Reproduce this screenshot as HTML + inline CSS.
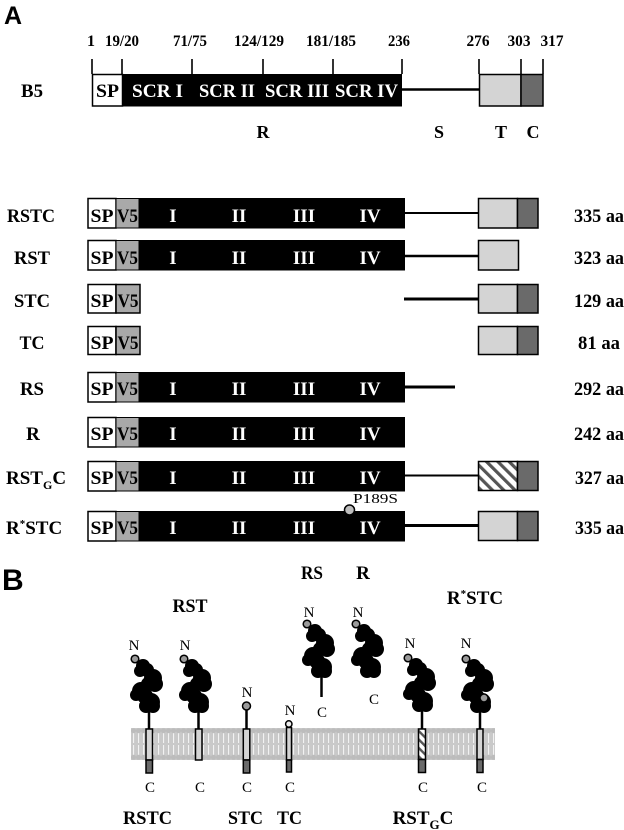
<!DOCTYPE html>
<html>
<head>
<meta charset="utf-8">
<style>
  html, body { margin: 0; padding: 0; background: #fff; }
  svg { display: block; }
  .b { font-family: "Liberation Serif", serif; font-weight: bold; }
  .r { font-family: "Liberation Serif", serif; font-weight: normal; }
  .s { font-family: "Liberation Sans", sans-serif; font-weight: bold; }
</style>
</head>
<body>
<svg width="624" height="830" viewBox="0 0 624 830" xmlns="http://www.w3.org/2000/svg">
  <defs>
    <pattern id="hatch" patternUnits="userSpaceOnUse" width="8" height="8" patternTransform="rotate(-45)">
      <rect x="0" y="0" width="8" height="8" fill="#fff"/>
      <rect x="0" y="0" width="3.2" height="8" fill="#555"/>
    </pattern>
    <pattern id="hatch2" patternUnits="userSpaceOnUse" width="6" height="6" patternTransform="rotate(-45)">
      <rect x="0" y="0" width="6" height="6" fill="#fff"/>
      <rect x="0" y="0" width="2.4" height="6" fill="#555"/>
    </pattern>
    <pattern id="tails" patternUnits="userSpaceOnUse" x="131" y="728" width="5" height="32">
      <rect x="0" y="0" width="5" height="32" fill="#c9c9c9"/>
      <rect x="2" y="5" width="1.1" height="10" fill="#f2f2f2"/>
      <rect x="2" y="17" width="1.1" height="10" fill="#f2f2f2"/>
      <circle cx="2.5" cy="2.7" r="2.5" fill="#bcbcbc"/>
      <circle cx="2.5" cy="29.3" r="2.5" fill="#bcbcbc"/>
    </pattern>
    <g id="blob" fill="#000">
      <circle cx="8" cy="7" r="7"/><circle cx="12" cy="11" r="7"/><circle cx="5" cy="12" r="6"/>
      <circle cx="18" cy="19" r="9"/><circle cx="20" cy="25" r="8"/><circle cx="13" cy="25" r="7"/>
      <circle cx="6" cy="32" r="9"/><circle cx="10" cy="37" r="8"/><circle cx="1" cy="36" r="6"/>
      <circle cx="16" cy="43" r="9"/><circle cx="18" cy="47" r="7"/><circle cx="11" cy="47" r="7"/>
    </g>
  </defs>

  <!-- ================= PANEL A ================= -->
  <text class="s" x="4" y="24" font-size="25">A</text>

  <!-- numbers -->
  <g class="b" font-size="16" text-anchor="middle">
    <text x="91" y="46">1</text>
    <text x="122" y="46" textLength="34" lengthAdjust="spacingAndGlyphs">19/20</text>
    <text x="190" y="46" textLength="34" lengthAdjust="spacingAndGlyphs">71/75</text>
    <text x="259" y="46" textLength="50" lengthAdjust="spacingAndGlyphs">124/129</text>
    <text x="331" y="46" textLength="50" lengthAdjust="spacingAndGlyphs">181/185</text>
    <text x="399" y="46" textLength="22" lengthAdjust="spacingAndGlyphs">236</text>
    <text x="478" y="46" textLength="23" lengthAdjust="spacingAndGlyphs">276</text>
    <text x="519" y="46" textLength="23" lengthAdjust="spacingAndGlyphs">303</text>
    <text x="552" y="46" textLength="23" lengthAdjust="spacingAndGlyphs">317</text>
  </g>
  <!-- ticks -->
  <g stroke="#000" stroke-width="1.6">
    <line x1="92" y1="59" x2="92" y2="74"/>
    <line x1="122" y1="59" x2="122" y2="74"/>
    <line x1="192" y1="59" x2="192" y2="74"/>
    <line x1="263" y1="59" x2="263" y2="74"/>
    <line x1="333" y1="59" x2="333" y2="74"/>
    <line x1="402" y1="59" x2="402" y2="74"/>
    <line x1="479" y1="59" x2="479" y2="74"/>
    <line x1="521" y1="59" x2="521" y2="74"/>
    <line x1="543" y1="59" x2="543" y2="74"/>
  </g>
  <!-- B5 bar -->
  <text class="b" x="32" y="97" font-size="19" text-anchor="middle" textLength="22" lengthAdjust="spacingAndGlyphs">B5</text>
  <rect x="92.5" y="74.5" width="30" height="31.5" fill="#fff" stroke="#000" stroke-width="1.5"/>
  <rect x="122" y="74" width="280" height="32.5" fill="#000"/>
  <line x1="402" y1="89.5" x2="479" y2="89.5" stroke="#000" stroke-width="2.6"/>
  <rect x="479.5" y="74.5" width="41.5" height="31.5" fill="#d4d4d4" stroke="#000" stroke-width="1.5"/>
  <rect x="521" y="74.5" width="22" height="31.5" fill="#6a6a6a" stroke="#000" stroke-width="1.5"/>
  <text class="b" x="107.5" y="97" font-size="19" text-anchor="middle" textLength="23" lengthAdjust="spacingAndGlyphs">SP</text>
  <g class="b" font-size="19" fill="#fff">
    <text x="132" y="97" textLength="51" lengthAdjust="spacingAndGlyphs">SCR I</text>
    <text x="199" y="97" textLength="56" lengthAdjust="spacingAndGlyphs">SCR II</text>
    <text x="265" y="97" textLength="64" lengthAdjust="spacingAndGlyphs">SCR III</text>
    <text x="335" y="97" textLength="63" lengthAdjust="spacingAndGlyphs">SCR IV</text>
  </g>
  <g class="b" font-size="18" text-anchor="middle">
    <text x="263" y="138">R</text>
    <text x="439" y="138">S</text>
    <text x="501" y="138">T</text>
    <text x="533" y="138">C</text>
  </g>

  <!-- RSTC: top 198 -->
  <g>
    <text class="b" x="31" y="222" font-size="19" text-anchor="middle" textLength="48" lengthAdjust="spacingAndGlyphs">RSTC</text>
    <rect x="88" y="198.5" width="28" height="29.5" fill="#fff" stroke="#000" stroke-width="1.5"/>
    <rect x="116" y="198.5" width="23" height="29.5" fill="#a9a9a9" stroke="#000" stroke-width="1"/>
    <rect x="138.5" y="198" width="266.5" height="30.5" fill="#000"/>
    <line x1="405" y1="213" x2="478" y2="213" stroke="#000" stroke-width="2"/>
    <rect x="478.5" y="198.5" width="39" height="29.5" fill="#d4d4d4" stroke="#000" stroke-width="1.5"/>
    <rect x="517.5" y="198.5" width="20.5" height="29.5" fill="#6a6a6a" stroke="#000" stroke-width="1.5"/>
    <text class="b" x="102" y="222" font-size="19" text-anchor="middle" textLength="23" lengthAdjust="spacingAndGlyphs">SP</text>
    <text class="b" x="127.5" y="222" font-size="19" text-anchor="middle" textLength="21" lengthAdjust="spacingAndGlyphs">V5</text>
    <g class="b" font-size="19" fill="#fff" text-anchor="middle">
      <text x="173" y="222">I</text><text x="239" y="222">II</text><text x="304" y="222">III</text><text x="370" y="222">IV</text>
    </g>
    <text class="b" x="574" y="222" font-size="19" textLength="50" lengthAdjust="spacingAndGlyphs">335 aa</text>
  </g>

  <!-- RST: top 240 -->
  <g>
    <text class="b" x="32" y="264" font-size="19" text-anchor="middle" textLength="36" lengthAdjust="spacingAndGlyphs">RST</text>
    <rect x="88" y="240.5" width="28" height="29.5" fill="#fff" stroke="#000" stroke-width="1.5"/>
    <rect x="116" y="240.5" width="23" height="29.5" fill="#a9a9a9" stroke="#000" stroke-width="1"/>
    <rect x="138.5" y="240" width="266.5" height="30.5" fill="#000"/>
    <line x1="405" y1="256" x2="478" y2="256" stroke="#000" stroke-width="2.6"/>
    <rect x="478.5" y="240.5" width="40" height="29.5" fill="#d4d4d4" stroke="#000" stroke-width="1.5"/>
    <text class="b" x="102" y="264" font-size="19" text-anchor="middle" textLength="23" lengthAdjust="spacingAndGlyphs">SP</text>
    <text class="b" x="127.5" y="264" font-size="19" text-anchor="middle" textLength="21" lengthAdjust="spacingAndGlyphs">V5</text>
    <g class="b" font-size="19" fill="#fff" text-anchor="middle">
      <text x="173" y="264">I</text><text x="239" y="264">II</text><text x="304" y="264">III</text><text x="370" y="264">IV</text>
    </g>
    <text class="b" x="574" y="264" font-size="19" textLength="50" lengthAdjust="spacingAndGlyphs">323 aa</text>
  </g>

  <!-- STC: top 284 -->
  <g>
    <text class="b" x="32" y="307" font-size="19" text-anchor="middle" textLength="36" lengthAdjust="spacingAndGlyphs">STC</text>
    <rect x="88" y="284.5" width="28" height="28.5" fill="#fff" stroke="#000" stroke-width="1.5"/>
    <rect x="116" y="284.5" width="24" height="28.5" fill="#a9a9a9" stroke="#000" stroke-width="1.5"/>
    <line x1="404" y1="299" x2="478" y2="299" stroke="#000" stroke-width="3"/>
    <rect x="478.5" y="284.5" width="39" height="28.5" fill="#d4d4d4" stroke="#000" stroke-width="1.5"/>
    <rect x="517.5" y="284.5" width="20.5" height="28.5" fill="#6a6a6a" stroke="#000" stroke-width="1.5"/>
    <text class="b" x="102" y="307" font-size="19" text-anchor="middle" textLength="23" lengthAdjust="spacingAndGlyphs">SP</text>
    <text class="b" x="128" y="307" font-size="19" text-anchor="middle" textLength="21" lengthAdjust="spacingAndGlyphs">V5</text>
    <text class="b" x="574" y="307" font-size="19" textLength="50" lengthAdjust="spacingAndGlyphs">129 aa</text>
  </g>

  <!-- TC: top 326 -->
  <g>
    <text class="b" x="32" y="349" font-size="19" text-anchor="middle" textLength="25" lengthAdjust="spacingAndGlyphs">TC</text>
    <rect x="88" y="326.5" width="28" height="28" fill="#fff" stroke="#000" stroke-width="1.5"/>
    <rect x="116" y="326.5" width="24" height="28" fill="#a9a9a9" stroke="#000" stroke-width="1.5"/>
    <rect x="478.5" y="326.5" width="39" height="28" fill="#d4d4d4" stroke="#000" stroke-width="1.5"/>
    <rect x="517.5" y="326.5" width="20.5" height="28" fill="#6a6a6a" stroke="#000" stroke-width="1.5"/>
    <text class="b" x="102" y="349" font-size="19" text-anchor="middle" textLength="23" lengthAdjust="spacingAndGlyphs">SP</text>
    <text class="b" x="128" y="349" font-size="19" text-anchor="middle" textLength="21" lengthAdjust="spacingAndGlyphs">V5</text>
    <text class="b" x="578" y="349" font-size="19" textLength="42" lengthAdjust="spacingAndGlyphs">81 aa</text>
  </g>

  <!-- RS: top 372 -->
  <g>
    <text class="b" x="32" y="395" font-size="19" text-anchor="middle" textLength="24" lengthAdjust="spacingAndGlyphs">RS</text>
    <rect x="88" y="372.5" width="28" height="29.5" fill="#fff" stroke="#000" stroke-width="1.5"/>
    <rect x="116" y="372.5" width="23" height="29.5" fill="#a9a9a9" stroke="#000" stroke-width="1"/>
    <rect x="138.5" y="372" width="266.5" height="30.5" fill="#000"/>
    <line x1="405" y1="387" x2="455" y2="387" stroke="#000" stroke-width="3"/>
    <text class="b" x="102" y="395" font-size="19" text-anchor="middle" textLength="23" lengthAdjust="spacingAndGlyphs">SP</text>
    <text class="b" x="127.5" y="395" font-size="19" text-anchor="middle" textLength="21" lengthAdjust="spacingAndGlyphs">V5</text>
    <g class="b" font-size="19" fill="#fff" text-anchor="middle">
      <text x="173" y="395">I</text><text x="239" y="395">II</text><text x="304" y="395">III</text><text x="370" y="395">IV</text>
    </g>
    <text class="b" x="574" y="395" font-size="19" textLength="50" lengthAdjust="spacingAndGlyphs">292 aa</text>
  </g>

  <!-- R: top 417 -->
  <g>
    <text class="b" x="33" y="440" font-size="19" text-anchor="middle">R</text>
    <rect x="88" y="417.5" width="28" height="29.5" fill="#fff" stroke="#000" stroke-width="1.5"/>
    <rect x="116" y="417.5" width="23" height="29.5" fill="#a9a9a9" stroke="#000" stroke-width="1"/>
    <rect x="138.5" y="417" width="266.5" height="30.5" fill="#000"/>
    <text class="b" x="102" y="440" font-size="19" text-anchor="middle" textLength="23" lengthAdjust="spacingAndGlyphs">SP</text>
    <text class="b" x="127.5" y="440" font-size="19" text-anchor="middle" textLength="21" lengthAdjust="spacingAndGlyphs">V5</text>
    <g class="b" font-size="19" fill="#fff" text-anchor="middle">
      <text x="173" y="440">I</text><text x="239" y="440">II</text><text x="304" y="440">III</text><text x="370" y="440">IV</text>
    </g>
    <text class="b" x="574" y="440" font-size="19" textLength="50" lengthAdjust="spacingAndGlyphs">242 aa</text>
  </g>

  <!-- RSTGC: top 461 -->
  <g>
    <text class="b" x="6" y="484" font-size="19">RST<tspan font-size="12" dy="5">G</tspan><tspan dy="-5">C</tspan></text>
    <rect x="88" y="461.5" width="28" height="29.5" fill="#fff" stroke="#000" stroke-width="1.5"/>
    <rect x="116" y="461.5" width="23" height="29.5" fill="#a9a9a9" stroke="#000" stroke-width="1"/>
    <rect x="138.5" y="461" width="266.5" height="30.5" fill="#000"/>
    <line x1="405" y1="475.5" x2="478" y2="475.5" stroke="#000" stroke-width="2"/>
    <rect x="478.5" y="461.5" width="39" height="29" fill="url(#hatch)" stroke="#000" stroke-width="1.5"/>
    <rect x="517.5" y="461.5" width="20.5" height="29" fill="#6a6a6a" stroke="#000" stroke-width="1.5"/>
    <text class="b" x="102" y="484" font-size="19" text-anchor="middle" textLength="23" lengthAdjust="spacingAndGlyphs">SP</text>
    <text class="b" x="127.5" y="484" font-size="19" text-anchor="middle" textLength="21" lengthAdjust="spacingAndGlyphs">V5</text>
    <g class="b" font-size="19" fill="#fff" text-anchor="middle">
      <text x="173" y="484">I</text><text x="239" y="484">II</text><text x="304" y="484">III</text><text x="370" y="484">IV</text>
    </g>
    <text class="b" x="575" y="484" font-size="19" textLength="49" lengthAdjust="spacingAndGlyphs">327 aa</text>
  </g>

  <!-- R*STC: top 511 -->
  <g>
    <text class="b" x="6" y="534" font-size="19">R<tspan font-size="11" dy="-7">*</tspan><tspan dy="7">STC</tspan></text>
    <rect x="88" y="511.5" width="28" height="29.5" fill="#fff" stroke="#000" stroke-width="1.5"/>
    <rect x="116" y="511.5" width="23" height="29.5" fill="#a9a9a9" stroke="#000" stroke-width="1"/>
    <rect x="138.5" y="511" width="266.5" height="30.5" fill="#000"/>
    <line x1="405" y1="525.5" x2="478" y2="525.5" stroke="#000" stroke-width="3"/>
    <rect x="478.5" y="511.5" width="39" height="29" fill="#d4d4d4" stroke="#000" stroke-width="1.5"/>
    <rect x="517.5" y="511.5" width="20.5" height="29" fill="#6a6a6a" stroke="#000" stroke-width="1.5"/>
    <text class="b" x="102" y="534" font-size="19" text-anchor="middle" textLength="23" lengthAdjust="spacingAndGlyphs">SP</text>
    <text class="b" x="127.5" y="534" font-size="19" text-anchor="middle" textLength="21" lengthAdjust="spacingAndGlyphs">V5</text>
    <g class="b" font-size="19" fill="#fff" text-anchor="middle">
      <text x="173" y="534">I</text><text x="239" y="534">II</text><text x="304" y="534">III</text><text x="370" y="534">IV</text>
    </g>
    <circle cx="349.5" cy="510" r="5" fill="#bdbdbd" stroke="#000" stroke-width="1.5"/>
    <text class="r" x="353" y="503" font-size="14" textLength="45" lengthAdjust="spacingAndGlyphs">P189S</text>
    <text class="b" x="575" y="534" font-size="19" textLength="49" lengthAdjust="spacingAndGlyphs">335 aa</text>
  </g>

  <!-- ================= PANEL B ================= -->
  <text class="s" x="2" y="590" font-size="30">B</text>

  <g class="b" font-size="19" text-anchor="middle">
    <text x="190" y="612" textLength="35" lengthAdjust="spacingAndGlyphs">RST</text>
    <text x="312" y="579" textLength="22" lengthAdjust="spacingAndGlyphs">RS</text>
    <text x="363" y="579">R</text>
    <text x="475" y="604">R<tspan font-size="11" dy="-7">*</tspan><tspan dy="7">STC</tspan></text>
  </g>
  <g class="b" font-size="19" text-anchor="middle">
    <text x="147.5" y="824" textLength="49" lengthAdjust="spacingAndGlyphs">RSTC</text>
    <text x="245.5" y="824" textLength="35" lengthAdjust="spacingAndGlyphs">STC</text>
    <text x="289.5" y="824" textLength="25" lengthAdjust="spacingAndGlyphs">TC</text>
    <text x="423" y="824">RST<tspan font-size="13" dy="5">G</tspan><tspan dy="-5">C</tspan></text>
  </g>

  <!-- membrane -->
  <rect x="131" y="728" width="364" height="32" fill="url(#tails)"/>

  <!-- stems -->
  <g stroke="#000" stroke-width="2.5">
    <line x1="149" y1="708" x2="149" y2="729"/>
    <line x1="198.5" y1="708" x2="198.5" y2="729"/>
    <line x1="246.5" y1="709" x2="246.5" y2="729"/>
    <line x1="321.5" y1="672" x2="321.5" y2="697"/>
    <line x1="422" y1="707" x2="422" y2="729"/>
    <line x1="480" y1="708" x2="480" y2="729"/>
  </g>

  <!-- blobs -->
  <use href="#blob" x="135" y="659"/>
  <use href="#blob" x="184" y="659"/>
  <use href="#blob" x="307" y="624"/>
  <use href="#blob" x="356" y="624"/>
  <use href="#blob" x="408" y="658"/>
  <use href="#blob" x="466" y="659"/>

  <!-- N-terminal circles -->
  <g fill="#9a9a9a" stroke="#000" stroke-width="1.5">
    <circle cx="135" cy="659" r="3.8"/>
    <circle cx="184" cy="659" r="3.8"/>
    <circle cx="246.5" cy="706" r="4"/>
    <circle cx="307" cy="624" r="3.8"/>
    <circle cx="356" cy="624" r="3.8"/>
    <circle cx="408" cy="658" r="3.8"/>
    <circle cx="466" cy="659" r="3.8"/>
    <circle cx="484" cy="698" r="4"/>
  </g>
  <circle cx="288.8" cy="724" r="3.2" fill="#eee" stroke="#000" stroke-width="1.5"/>

  <!-- TM boxes -->
  <g stroke="#000" stroke-width="1.5">
    <rect x="146" y="729" width="6.5" height="31" fill="#d4d4d4"/>
    <rect x="146" y="760" width="6.5" height="13" fill="#6a6a6a"/>
    <rect x="195.5" y="729" width="6.5" height="31" fill="#d4d4d4"/>
    <rect x="243.3" y="729" width="6.5" height="31" fill="#d4d4d4"/>
    <rect x="243.3" y="760" width="6.5" height="13" fill="#6a6a6a"/>
    <rect x="286.5" y="727.5" width="5" height="32.5" fill="#d4d4d4"/>
    <rect x="286.5" y="760" width="5" height="12" fill="#6a6a6a"/>
    <rect x="418.5" y="729" width="7" height="30.5" fill="url(#hatch2)"/>
    <rect x="418.5" y="759.5" width="7" height="13" fill="#6a6a6a"/>
    <rect x="477" y="729" width="6" height="30.5" fill="#d4d4d4"/>
    <rect x="477" y="759.5" width="6" height="13" fill="#6a6a6a"/>
  </g>

  <!-- N / C labels -->
  <g class="r" font-size="15" text-anchor="middle">
    <text x="134" y="650">N</text>
    <text x="185" y="650">N</text>
    <text x="247" y="697">N</text>
    <text x="290" y="715">N</text>
    <text x="309" y="617">N</text>
    <text x="358" y="617">N</text>
    <text x="410" y="648">N</text>
    <text x="466" y="648">N</text>

    <text x="150" y="792">C</text>
    <text x="200" y="792">C</text>
    <text x="247" y="792">C</text>
    <text x="290" y="792">C</text>
    <text x="423" y="792">C</text>
    <text x="482" y="792">C</text>
    <text x="322" y="717">C</text>
    <text x="374" y="704">C</text>
  </g>
</svg>
</body>
</html>
